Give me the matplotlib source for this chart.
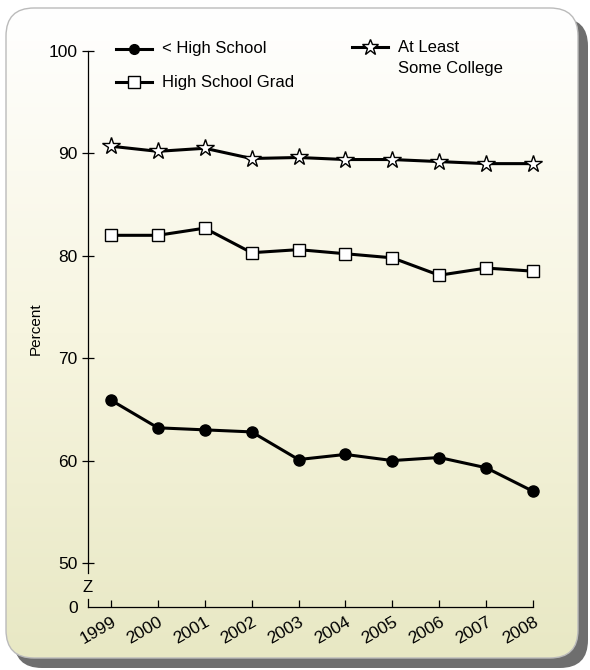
import numpy as np
import matplotlib
matplotlib.use("Agg")
import matplotlib.pyplot as plt
from matplotlib.patches import FancyBboxPatch
from matplotlib.lines import Line2D
from matplotlib.colors import LinearSegmentedColormap

years = [1999, 2000, 2001, 2002, 2003, 2004, 2005, 2006, 2007, 2008]
some_college = [90.7, 90.2, 90.5, 89.5, 89.6, 89.4, 89.4, 89.2, 89.0, 89.0]
hs_grad = [82.0, 82.0, 82.7, 80.3, 80.6, 80.2, 79.8, 78.1, 78.8, 78.5]
less_hs = [65.9, 63.2, 63.0, 62.8, 60.1, 60.6, 60.0, 60.3, 59.3, 57.0]

plt.rcParams['font.family'] = ['Liberation Sans', 'DejaVu Sans']
fig = plt.figure(figsize=(5.9, 6.7), dpi=100)
fig.patch.set_facecolor('white')

# background panel: shadow + gradient rounded box
bg = fig.add_axes([0, 0, 1, 1])
bg.set_xlim(0, 590); bg.set_ylim(670, 0); bg.axis('off')
shadow = FancyBboxPatch((14, 18), 574, 650, boxstyle="round,pad=0,rounding_size=28",
                        fc='#6e6e6e', ec='none', zorder=0)
bg.add_patch(shadow)
panel = FancyBboxPatch((6, 8), 572, 650, boxstyle="round,pad=0,rounding_size=28",
                       fc='none', ec='#bbbbbb', lw=1, zorder=2)
grad = np.linspace(0, 1, 256).reshape(-1, 1)
cmap = LinearSegmentedColormap.from_list('g', ['#ffffff', '#f7f5e0', '#e8e8c4'])
im = bg.imshow(grad, cmap=cmap, extent=(6, 578, 658, 8), aspect='auto', zorder=1)
bg.add_patch(panel)
im.set_clip_path(panel)

ax = fig.add_axes([88/590, 1-607/670, 445/590, (607-51)/670])
ax.patch.set_alpha(0)
x0 = 1999 - 23/47
ax.set_xlim(x0, 2008)
y0 = 45.7
ax.set_ylim(y0, 100)

ax.plot(years, some_college, marker='*', mfc='white', mec='black', mew=1.0, ms=13,
        color='black', lw=2.2, clip_on=False)
ax.plot(years, hs_grad, marker='s', mfc='white', mec='black', mew=1.0, color='black',
        lw=2.2, ms=9, clip_on=False)
ax.plot(years, less_hs, marker='o', mfc='black', color='black', lw=2.2, ms=8, clip_on=False)

for s in ['top', 'right', 'left']:
    ax.spines[s].set_visible(False)
ax.spines['bottom'].set_linewidth(0.9)
# broken y axis
ax.plot([x0, x0], [49.0, 100], color='black', lw=0.9, clip_on=False)
ax.plot([x0, x0], [y0, 46.5], color='black', lw=0.9, clip_on=False)
ax.text(x0, 47.6, 'Z', ha='center', va='center', fontsize=12)

ax.set_yticks([y0, 50, 60, 70, 80, 90, 100])
ax.set_yticklabels(['0', '50', '60', '70', '80', '90', '100'], fontsize=12.5)
ax.tick_params(axis='y', direction='inout', length=9, width=0.9, pad=3)
ax.yaxis.get_major_ticks()[0].tick1line.set_visible(False)
ax.set_xticks(years)
ax.set_xticklabels([str(y) for y in years], rotation=30, fontsize=12.5,
                   ha='right', rotation_mode='anchor')
ax.tick_params(axis='x', direction='in', length=5, width=0.9, pad=5)
ax.set_ylabel('Percent', fontsize=11, labelpad=4)

# legend
def leg(x, y, marker, label, ms, mfc):
    bg.add_line(Line2D([x, x + 36], [y, y], color='black', lw=2.2, zorder=3))
    bg.plot([x + 18], [y], marker=marker, ms=ms, mfc=mfc, mec='black', color='black', zorder=4)
    bg.text(x + 46, y, label, va='center', ha='left', fontsize=12, zorder=4)

leg(116, 49, 'o', '< High School', 7, 'black')
leg(116, 82, 's', 'High School Grad', 8, 'white')
leg(352, 47, '*', 'At Least', 12, 'white')
bg.text(398, 69, 'Some College', va='center', ha='left', fontsize=12, zorder=4)

fig.savefig('out.png', dpi=100)
